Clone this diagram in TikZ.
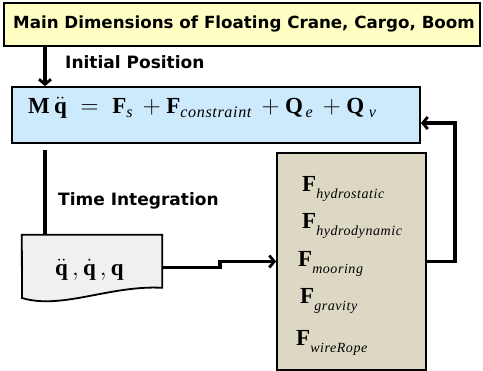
\documentclass[tikz,border=0pt]{standalone}
\usepackage{amsmath}
\usepackage{fontspec}
\setmainfont{Liberation Serif}
\newfontfamily\labelfont{DejaVu Sans}
\newfontfamily\subfont{Liberation Serif}[LetterSpace=4]
\newcommand\sbs[1]{_{\text{\subfont\itshape #1}}}
\newcommand\fsub[1]{_{\text{\raisebox{-3pt}{\subfont\itshape\fontsize{14}{14}\selectfont #1}}}}
\usetikzlibrary{arrows.meta,calc}

\definecolor{titlefill}{HTML}{FFFFC4}
\definecolor{eqfill}{HTML}{CCEAFC}
\definecolor{docfill}{HTML}{F0F0F0}
\definecolor{forcefill}{HTML}{DDD8C3}

\tikzset{
  box/.style={draw=black,line width=1.8pt,inner sep=0pt},
  conn/.style={line width=3.2pt,-{Straight Barb[length=5pt,width=12pt,line width=2.8pt]}},
  wire/.style={line width=3.2pt},
  lbl/.style={font=\labelfont\bfseries\fontsize{17}{19}\selectfont,anchor=base west,inner sep=0pt},
  force/.style={font=\fontsize{23}{25}\selectfont,anchor=base west,inner sep=0pt},
}

\begin{document}
\begin{tikzpicture}[x=1pt,y=-1pt]
    \useasboundingbox (0,0) rectangle (483,371);
    % --- boxes
    \node[box,fill=titlefill,minimum width=476pt,minimum height=43pt] (title) at (242,24.5) {};
    \node[font=\labelfont\bfseries\fontsize{16.7}{18}\selectfont,anchor=base,inner sep=0pt]
      (titletext) at (244,29) {Main Dimensions of Floating Crane, Cargo, Boom};
    \node[box,fill=eqfill,minimum width=408pt,minimum height=56pt] (eq) at (216,115) {};
    \node[font=\fontsize{23}{25}\selectfont,anchor=base west,inner sep=0pt] (eqtext) at (28,114)
      {$\mathbf{M}\,\ddot{\mathbf{q}}\;=\;\mathbf{F}\sbs{s}\,+\mathbf{F}\sbs{constraint}
        \,+\mathbf{Q}\sbs{\,e}\,+\mathbf{Q}\sbs{\;v}$};
    \node[box,fill=forcefill,minimum width=149pt,minimum height=217pt] (forces) at (351.5,261.5) {};
    % --- document shape
    \node[minimum width=140pt,minimum height=65pt,inner sep=0pt] (doc) at (92,267.5) {};
    \draw[line width=1.8pt,fill=docfill] (doc.north west) -- (doc.north east) -- ++(0,53)
      .. controls (110,285) and (62,310) .. (22,298) -- cycle;
    \node[font=\fontsize{23}{25}\selectfont,anchor=base west,inner sep=0pt] (state) at (55,276)
      {$\ddot{\mathbf{q}}\,,\dot{\mathbf{q}}\,,\mathbf{q}$};
    % --- force terms
    \node[force] (f1) at (302,192) {$\mathbf{F}\fsub{hydrostatic}$};
    \node[force] (f2) at (302,229) {$\mathbf{F}\fsub{hydrodynamic}$};
    \node[force] (f3) at (298,267) {$\mathbf{F}\fsub{mooring}$};
    \node[force] (f4) at (300,304) {$\mathbf{F}\fsub{gravity}$};
    \node[force] (f5) at (296,346) {$\mathbf{F}\fsub{wireRope}$};
    % --- labels
    \node[lbl] (init) at (65,69) {Initial Position};
    \node[lbl] (integ) at (58,206) {Time Integration};
    % --- connectors
    \coordinate (ip) at (45,0);
    \coordinate (fb) at (455,123);
    \coordinate (jog) at (220,0);
    \draw[conn] (title.south -| ip) -- (eq.north -| ip);
    \draw[wire,shorten <=6pt] (eq.south -| ip) -- (doc.north -| ip);
    \draw[conn] (doc.east) -- (doc.east -| jog) -- (forces.west -| jog) -- (forces.west);
    \draw[conn] (forces.east) -| (fb) -- (fb -| eq.east);
\end{tikzpicture}
\end{document}
